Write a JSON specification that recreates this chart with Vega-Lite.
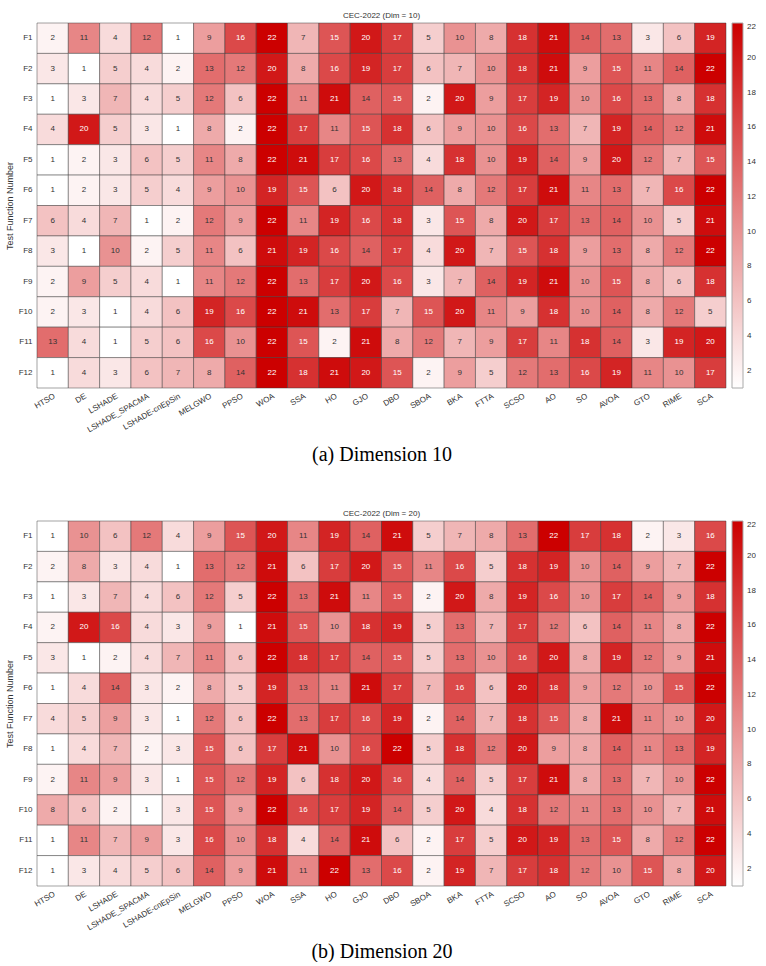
{
  "$schema": "https://vega.github.io/schema/vega-lite/v6.json",
  "padding": {"left": 5, "top": 11, "right": 0, "bottom": 0},
  "background": "white",
  "config": {
    "font": "Liberation Sans",
    "view": {"stroke": null},
    "concat": {"spacing": 44}
  },
  "datasets": {
    "dim10": [
      {"f":"F1","a":"HTSO","v":2},{"f":"F1","a":"DE","v":11},{"f":"F1","a":"LSHADE","v":4},{"f":"F1","a":"LSHADE_SPACMA","v":12},{"f":"F1","a":"LSHADE-cnEpSin","v":1},{"f":"F1","a":"MELGWO","v":9},{"f":"F1","a":"PPSO","v":16},{"f":"F1","a":"WOA","v":22},{"f":"F1","a":"SSA","v":7},{"f":"F1","a":"HO","v":15},{"f":"F1","a":"GJO","v":20},{"f":"F1","a":"DBO","v":17},{"f":"F1","a":"SBOA","v":5},{"f":"F1","a":"BKA","v":10},{"f":"F1","a":"FTTA","v":8},{"f":"F1","a":"SCSO","v":18},{"f":"F1","a":"AO","v":21},{"f":"F1","a":"SO","v":14},{"f":"F1","a":"AVOA","v":13},{"f":"F1","a":"GTO","v":3},{"f":"F1","a":"RIME","v":6},{"f":"F1","a":"SCA","v":19},
      {"f":"F2","a":"HTSO","v":3},{"f":"F2","a":"DE","v":1},{"f":"F2","a":"LSHADE","v":5},{"f":"F2","a":"LSHADE_SPACMA","v":4},{"f":"F2","a":"LSHADE-cnEpSin","v":2},{"f":"F2","a":"MELGWO","v":13},{"f":"F2","a":"PPSO","v":12},{"f":"F2","a":"WOA","v":20},{"f":"F2","a":"SSA","v":8},{"f":"F2","a":"HO","v":16},{"f":"F2","a":"GJO","v":19},{"f":"F2","a":"DBO","v":17},{"f":"F2","a":"SBOA","v":6},{"f":"F2","a":"BKA","v":7},{"f":"F2","a":"FTTA","v":10},{"f":"F2","a":"SCSO","v":18},{"f":"F2","a":"AO","v":21},{"f":"F2","a":"SO","v":9},{"f":"F2","a":"AVOA","v":15},{"f":"F2","a":"GTO","v":11},{"f":"F2","a":"RIME","v":14},{"f":"F2","a":"SCA","v":22},
      {"f":"F3","a":"HTSO","v":1},{"f":"F3","a":"DE","v":3},{"f":"F3","a":"LSHADE","v":7},{"f":"F3","a":"LSHADE_SPACMA","v":4},{"f":"F3","a":"LSHADE-cnEpSin","v":5},{"f":"F3","a":"MELGWO","v":12},{"f":"F3","a":"PPSO","v":6},{"f":"F3","a":"WOA","v":22},{"f":"F3","a":"SSA","v":11},{"f":"F3","a":"HO","v":21},{"f":"F3","a":"GJO","v":14},{"f":"F3","a":"DBO","v":15},{"f":"F3","a":"SBOA","v":2},{"f":"F3","a":"BKA","v":20},{"f":"F3","a":"FTTA","v":9},{"f":"F3","a":"SCSO","v":17},{"f":"F3","a":"AO","v":19},{"f":"F3","a":"SO","v":10},{"f":"F3","a":"AVOA","v":16},{"f":"F3","a":"GTO","v":13},{"f":"F3","a":"RIME","v":8},{"f":"F3","a":"SCA","v":18},
      {"f":"F4","a":"HTSO","v":4},{"f":"F4","a":"DE","v":20},{"f":"F4","a":"LSHADE","v":5},{"f":"F4","a":"LSHADE_SPACMA","v":3},{"f":"F4","a":"LSHADE-cnEpSin","v":1},{"f":"F4","a":"MELGWO","v":8},{"f":"F4","a":"PPSO","v":2},{"f":"F4","a":"WOA","v":22},{"f":"F4","a":"SSA","v":17},{"f":"F4","a":"HO","v":11},{"f":"F4","a":"GJO","v":15},{"f":"F4","a":"DBO","v":18},{"f":"F4","a":"SBOA","v":6},{"f":"F4","a":"BKA","v":9},{"f":"F4","a":"FTTA","v":10},{"f":"F4","a":"SCSO","v":16},{"f":"F4","a":"AO","v":13},{"f":"F4","a":"SO","v":7},{"f":"F4","a":"AVOA","v":19},{"f":"F4","a":"GTO","v":14},{"f":"F4","a":"RIME","v":12},{"f":"F4","a":"SCA","v":21},
      {"f":"F5","a":"HTSO","v":1},{"f":"F5","a":"DE","v":2},{"f":"F5","a":"LSHADE","v":3},{"f":"F5","a":"LSHADE_SPACMA","v":6},{"f":"F5","a":"LSHADE-cnEpSin","v":5},{"f":"F5","a":"MELGWO","v":11},{"f":"F5","a":"PPSO","v":8},{"f":"F5","a":"WOA","v":22},{"f":"F5","a":"SSA","v":21},{"f":"F5","a":"HO","v":17},{"f":"F5","a":"GJO","v":16},{"f":"F5","a":"DBO","v":13},{"f":"F5","a":"SBOA","v":4},{"f":"F5","a":"BKA","v":18},{"f":"F5","a":"FTTA","v":10},{"f":"F5","a":"SCSO","v":19},{"f":"F5","a":"AO","v":14},{"f":"F5","a":"SO","v":9},{"f":"F5","a":"AVOA","v":20},{"f":"F5","a":"GTO","v":12},{"f":"F5","a":"RIME","v":7},{"f":"F5","a":"SCA","v":15},
      {"f":"F6","a":"HTSO","v":1},{"f":"F6","a":"DE","v":2},{"f":"F6","a":"LSHADE","v":3},{"f":"F6","a":"LSHADE_SPACMA","v":5},{"f":"F6","a":"LSHADE-cnEpSin","v":4},{"f":"F6","a":"MELGWO","v":9},{"f":"F6","a":"PPSO","v":10},{"f":"F6","a":"WOA","v":19},{"f":"F6","a":"SSA","v":15},{"f":"F6","a":"HO","v":6},{"f":"F6","a":"GJO","v":20},{"f":"F6","a":"DBO","v":18},{"f":"F6","a":"SBOA","v":14},{"f":"F6","a":"BKA","v":8},{"f":"F6","a":"FTTA","v":12},{"f":"F6","a":"SCSO","v":17},{"f":"F6","a":"AO","v":21},{"f":"F6","a":"SO","v":11},{"f":"F6","a":"AVOA","v":13},{"f":"F6","a":"GTO","v":7},{"f":"F6","a":"RIME","v":16},{"f":"F6","a":"SCA","v":22},
      {"f":"F7","a":"HTSO","v":6},{"f":"F7","a":"DE","v":4},{"f":"F7","a":"LSHADE","v":7},{"f":"F7","a":"LSHADE_SPACMA","v":1},{"f":"F7","a":"LSHADE-cnEpSin","v":2},{"f":"F7","a":"MELGWO","v":12},{"f":"F7","a":"PPSO","v":9},{"f":"F7","a":"WOA","v":22},{"f":"F7","a":"SSA","v":11},{"f":"F7","a":"HO","v":19},{"f":"F7","a":"GJO","v":16},{"f":"F7","a":"DBO","v":18},{"f":"F7","a":"SBOA","v":3},{"f":"F7","a":"BKA","v":15},{"f":"F7","a":"FTTA","v":8},{"f":"F7","a":"SCSO","v":20},{"f":"F7","a":"AO","v":17},{"f":"F7","a":"SO","v":13},{"f":"F7","a":"AVOA","v":14},{"f":"F7","a":"GTO","v":10},{"f":"F7","a":"RIME","v":5},{"f":"F7","a":"SCA","v":21},
      {"f":"F8","a":"HTSO","v":3},{"f":"F8","a":"DE","v":1},{"f":"F8","a":"LSHADE","v":10},{"f":"F8","a":"LSHADE_SPACMA","v":2},{"f":"F8","a":"LSHADE-cnEpSin","v":5},{"f":"F8","a":"MELGWO","v":11},{"f":"F8","a":"PPSO","v":6},{"f":"F8","a":"WOA","v":21},{"f":"F8","a":"SSA","v":19},{"f":"F8","a":"HO","v":16},{"f":"F8","a":"GJO","v":14},{"f":"F8","a":"DBO","v":17},{"f":"F8","a":"SBOA","v":4},{"f":"F8","a":"BKA","v":20},{"f":"F8","a":"FTTA","v":7},{"f":"F8","a":"SCSO","v":15},{"f":"F8","a":"AO","v":18},{"f":"F8","a":"SO","v":9},{"f":"F8","a":"AVOA","v":13},{"f":"F8","a":"GTO","v":8},{"f":"F8","a":"RIME","v":12},{"f":"F8","a":"SCA","v":22},
      {"f":"F9","a":"HTSO","v":2},{"f":"F9","a":"DE","v":9},{"f":"F9","a":"LSHADE","v":5},{"f":"F9","a":"LSHADE_SPACMA","v":4},{"f":"F9","a":"LSHADE-cnEpSin","v":1},{"f":"F9","a":"MELGWO","v":11},{"f":"F9","a":"PPSO","v":12},{"f":"F9","a":"WOA","v":22},{"f":"F9","a":"SSA","v":13},{"f":"F9","a":"HO","v":17},{"f":"F9","a":"GJO","v":20},{"f":"F9","a":"DBO","v":16},{"f":"F9","a":"SBOA","v":3},{"f":"F9","a":"BKA","v":7},{"f":"F9","a":"FTTA","v":14},{"f":"F9","a":"SCSO","v":19},{"f":"F9","a":"AO","v":21},{"f":"F9","a":"SO","v":10},{"f":"F9","a":"AVOA","v":15},{"f":"F9","a":"GTO","v":8},{"f":"F9","a":"RIME","v":6},{"f":"F9","a":"SCA","v":18},
      {"f":"F10","a":"HTSO","v":2},{"f":"F10","a":"DE","v":3},{"f":"F10","a":"LSHADE","v":1},{"f":"F10","a":"LSHADE_SPACMA","v":4},{"f":"F10","a":"LSHADE-cnEpSin","v":6},{"f":"F10","a":"MELGWO","v":19},{"f":"F10","a":"PPSO","v":16},{"f":"F10","a":"WOA","v":22},{"f":"F10","a":"SSA","v":21},{"f":"F10","a":"HO","v":13},{"f":"F10","a":"GJO","v":17},{"f":"F10","a":"DBO","v":7},{"f":"F10","a":"SBOA","v":15},{"f":"F10","a":"BKA","v":20},{"f":"F10","a":"FTTA","v":11},{"f":"F10","a":"SCSO","v":9},{"f":"F10","a":"AO","v":18},{"f":"F10","a":"SO","v":10},{"f":"F10","a":"AVOA","v":14},{"f":"F10","a":"GTO","v":8},{"f":"F10","a":"RIME","v":12},{"f":"F10","a":"SCA","v":5},
      {"f":"F11","a":"HTSO","v":13},{"f":"F11","a":"DE","v":4},{"f":"F11","a":"LSHADE","v":1},{"f":"F11","a":"LSHADE_SPACMA","v":5},{"f":"F11","a":"LSHADE-cnEpSin","v":6},{"f":"F11","a":"MELGWO","v":16},{"f":"F11","a":"PPSO","v":10},{"f":"F11","a":"WOA","v":22},{"f":"F11","a":"SSA","v":15},{"f":"F11","a":"HO","v":2},{"f":"F11","a":"GJO","v":21},{"f":"F11","a":"DBO","v":8},{"f":"F11","a":"SBOA","v":12},{"f":"F11","a":"BKA","v":7},{"f":"F11","a":"FTTA","v":9},{"f":"F11","a":"SCSO","v":17},{"f":"F11","a":"AO","v":11},{"f":"F11","a":"SO","v":18},{"f":"F11","a":"AVOA","v":14},{"f":"F11","a":"GTO","v":3},{"f":"F11","a":"RIME","v":19},{"f":"F11","a":"SCA","v":20},
      {"f":"F12","a":"HTSO","v":1},{"f":"F12","a":"DE","v":4},{"f":"F12","a":"LSHADE","v":3},{"f":"F12","a":"LSHADE_SPACMA","v":6},{"f":"F12","a":"LSHADE-cnEpSin","v":7},{"f":"F12","a":"MELGWO","v":8},{"f":"F12","a":"PPSO","v":14},{"f":"F12","a":"WOA","v":22},{"f":"F12","a":"SSA","v":18},{"f":"F12","a":"HO","v":21},{"f":"F12","a":"GJO","v":20},{"f":"F12","a":"DBO","v":15},{"f":"F12","a":"SBOA","v":2},{"f":"F12","a":"BKA","v":9},{"f":"F12","a":"FTTA","v":5},{"f":"F12","a":"SCSO","v":12},{"f":"F12","a":"AO","v":13},{"f":"F12","a":"SO","v":16},{"f":"F12","a":"AVOA","v":19},{"f":"F12","a":"GTO","v":11},{"f":"F12","a":"RIME","v":10},{"f":"F12","a":"SCA","v":17}
    ],
    "dim20": [
      {"f":"F1","a":"HTSO","v":1},{"f":"F1","a":"DE","v":10},{"f":"F1","a":"LSHADE","v":6},{"f":"F1","a":"LSHADE_SPACMA","v":12},{"f":"F1","a":"LSHADE-cnEpSin","v":4},{"f":"F1","a":"MELGWO","v":9},{"f":"F1","a":"PPSO","v":15},{"f":"F1","a":"WOA","v":20},{"f":"F1","a":"SSA","v":11},{"f":"F1","a":"HO","v":19},{"f":"F1","a":"GJO","v":14},{"f":"F1","a":"DBO","v":21},{"f":"F1","a":"SBOA","v":5},{"f":"F1","a":"BKA","v":7},{"f":"F1","a":"FTTA","v":8},{"f":"F1","a":"SCSO","v":13},{"f":"F1","a":"AO","v":22},{"f":"F1","a":"SO","v":17},{"f":"F1","a":"AVOA","v":18},{"f":"F1","a":"GTO","v":2},{"f":"F1","a":"RIME","v":3},{"f":"F1","a":"SCA","v":16},
      {"f":"F2","a":"HTSO","v":2},{"f":"F2","a":"DE","v":8},{"f":"F2","a":"LSHADE","v":3},{"f":"F2","a":"LSHADE_SPACMA","v":4},{"f":"F2","a":"LSHADE-cnEpSin","v":1},{"f":"F2","a":"MELGWO","v":13},{"f":"F2","a":"PPSO","v":12},{"f":"F2","a":"WOA","v":21},{"f":"F2","a":"SSA","v":6},{"f":"F2","a":"HO","v":17},{"f":"F2","a":"GJO","v":20},{"f":"F2","a":"DBO","v":15},{"f":"F2","a":"SBOA","v":11},{"f":"F2","a":"BKA","v":16},{"f":"F2","a":"FTTA","v":5},{"f":"F2","a":"SCSO","v":18},{"f":"F2","a":"AO","v":19},{"f":"F2","a":"SO","v":10},{"f":"F2","a":"AVOA","v":14},{"f":"F2","a":"GTO","v":9},{"f":"F2","a":"RIME","v":7},{"f":"F2","a":"SCA","v":22},
      {"f":"F3","a":"HTSO","v":1},{"f":"F3","a":"DE","v":3},{"f":"F3","a":"LSHADE","v":7},{"f":"F3","a":"LSHADE_SPACMA","v":4},{"f":"F3","a":"LSHADE-cnEpSin","v":6},{"f":"F3","a":"MELGWO","v":12},{"f":"F3","a":"PPSO","v":5},{"f":"F3","a":"WOA","v":22},{"f":"F3","a":"SSA","v":13},{"f":"F3","a":"HO","v":21},{"f":"F3","a":"GJO","v":11},{"f":"F3","a":"DBO","v":15},{"f":"F3","a":"SBOA","v":2},{"f":"F3","a":"BKA","v":20},{"f":"F3","a":"FTTA","v":8},{"f":"F3","a":"SCSO","v":19},{"f":"F3","a":"AO","v":16},{"f":"F3","a":"SO","v":10},{"f":"F3","a":"AVOA","v":17},{"f":"F3","a":"GTO","v":14},{"f":"F3","a":"RIME","v":9},{"f":"F3","a":"SCA","v":18},
      {"f":"F4","a":"HTSO","v":2},{"f":"F4","a":"DE","v":20},{"f":"F4","a":"LSHADE","v":16},{"f":"F4","a":"LSHADE_SPACMA","v":4},{"f":"F4","a":"LSHADE-cnEpSin","v":3},{"f":"F4","a":"MELGWO","v":9},{"f":"F4","a":"PPSO","v":1},{"f":"F4","a":"WOA","v":21},{"f":"F4","a":"SSA","v":15},{"f":"F4","a":"HO","v":10},{"f":"F4","a":"GJO","v":18},{"f":"F4","a":"DBO","v":19},{"f":"F4","a":"SBOA","v":5},{"f":"F4","a":"BKA","v":13},{"f":"F4","a":"FTTA","v":7},{"f":"F4","a":"SCSO","v":17},{"f":"F4","a":"AO","v":12},{"f":"F4","a":"SO","v":6},{"f":"F4","a":"AVOA","v":14},{"f":"F4","a":"GTO","v":11},{"f":"F4","a":"RIME","v":8},{"f":"F4","a":"SCA","v":22},
      {"f":"F5","a":"HTSO","v":3},{"f":"F5","a":"DE","v":1},{"f":"F5","a":"LSHADE","v":2},{"f":"F5","a":"LSHADE_SPACMA","v":4},{"f":"F5","a":"LSHADE-cnEpSin","v":7},{"f":"F5","a":"MELGWO","v":11},{"f":"F5","a":"PPSO","v":6},{"f":"F5","a":"WOA","v":22},{"f":"F5","a":"SSA","v":18},{"f":"F5","a":"HO","v":17},{"f":"F5","a":"GJO","v":14},{"f":"F5","a":"DBO","v":15},{"f":"F5","a":"SBOA","v":5},{"f":"F5","a":"BKA","v":13},{"f":"F5","a":"FTTA","v":10},{"f":"F5","a":"SCSO","v":16},{"f":"F5","a":"AO","v":20},{"f":"F5","a":"SO","v":8},{"f":"F5","a":"AVOA","v":19},{"f":"F5","a":"GTO","v":12},{"f":"F5","a":"RIME","v":9},{"f":"F5","a":"SCA","v":21},
      {"f":"F6","a":"HTSO","v":1},{"f":"F6","a":"DE","v":4},{"f":"F6","a":"LSHADE","v":14},{"f":"F6","a":"LSHADE_SPACMA","v":3},{"f":"F6","a":"LSHADE-cnEpSin","v":2},{"f":"F6","a":"MELGWO","v":8},{"f":"F6","a":"PPSO","v":5},{"f":"F6","a":"WOA","v":19},{"f":"F6","a":"SSA","v":13},{"f":"F6","a":"HO","v":11},{"f":"F6","a":"GJO","v":21},{"f":"F6","a":"DBO","v":17},{"f":"F6","a":"SBOA","v":7},{"f":"F6","a":"BKA","v":16},{"f":"F6","a":"FTTA","v":6},{"f":"F6","a":"SCSO","v":20},{"f":"F6","a":"AO","v":18},{"f":"F6","a":"SO","v":9},{"f":"F6","a":"AVOA","v":12},{"f":"F6","a":"GTO","v":10},{"f":"F6","a":"RIME","v":15},{"f":"F6","a":"SCA","v":22},
      {"f":"F7","a":"HTSO","v":4},{"f":"F7","a":"DE","v":5},{"f":"F7","a":"LSHADE","v":9},{"f":"F7","a":"LSHADE_SPACMA","v":3},{"f":"F7","a":"LSHADE-cnEpSin","v":1},{"f":"F7","a":"MELGWO","v":12},{"f":"F7","a":"PPSO","v":6},{"f":"F7","a":"WOA","v":22},{"f":"F7","a":"SSA","v":13},{"f":"F7","a":"HO","v":17},{"f":"F7","a":"GJO","v":16},{"f":"F7","a":"DBO","v":19},{"f":"F7","a":"SBOA","v":2},{"f":"F7","a":"BKA","v":14},{"f":"F7","a":"FTTA","v":7},{"f":"F7","a":"SCSO","v":18},{"f":"F7","a":"AO","v":15},{"f":"F7","a":"SO","v":8},{"f":"F7","a":"AVOA","v":21},{"f":"F7","a":"GTO","v":11},{"f":"F7","a":"RIME","v":10},{"f":"F7","a":"SCA","v":20},
      {"f":"F8","a":"HTSO","v":1},{"f":"F8","a":"DE","v":4},{"f":"F8","a":"LSHADE","v":7},{"f":"F8","a":"LSHADE_SPACMA","v":2},{"f":"F8","a":"LSHADE-cnEpSin","v":3},{"f":"F8","a":"MELGWO","v":15},{"f":"F8","a":"PPSO","v":6},{"f":"F8","a":"WOA","v":17},{"f":"F8","a":"SSA","v":21},{"f":"F8","a":"HO","v":10},{"f":"F8","a":"GJO","v":16},{"f":"F8","a":"DBO","v":22},{"f":"F8","a":"SBOA","v":5},{"f":"F8","a":"BKA","v":18},{"f":"F8","a":"FTTA","v":12},{"f":"F8","a":"SCSO","v":20},{"f":"F8","a":"AO","v":9},{"f":"F8","a":"SO","v":8},{"f":"F8","a":"AVOA","v":14},{"f":"F8","a":"GTO","v":11},{"f":"F8","a":"RIME","v":13},{"f":"F8","a":"SCA","v":19},
      {"f":"F9","a":"HTSO","v":2},{"f":"F9","a":"DE","v":11},{"f":"F9","a":"LSHADE","v":9},{"f":"F9","a":"LSHADE_SPACMA","v":3},{"f":"F9","a":"LSHADE-cnEpSin","v":1},{"f":"F9","a":"MELGWO","v":15},{"f":"F9","a":"PPSO","v":12},{"f":"F9","a":"WOA","v":19},{"f":"F9","a":"SSA","v":6},{"f":"F9","a":"HO","v":18},{"f":"F9","a":"GJO","v":20},{"f":"F9","a":"DBO","v":16},{"f":"F9","a":"SBOA","v":4},{"f":"F9","a":"BKA","v":14},{"f":"F9","a":"FTTA","v":5},{"f":"F9","a":"SCSO","v":17},{"f":"F9","a":"AO","v":21},{"f":"F9","a":"SO","v":8},{"f":"F9","a":"AVOA","v":13},{"f":"F9","a":"GTO","v":7},{"f":"F9","a":"RIME","v":10},{"f":"F9","a":"SCA","v":22},
      {"f":"F10","a":"HTSO","v":8},{"f":"F10","a":"DE","v":6},{"f":"F10","a":"LSHADE","v":2},{"f":"F10","a":"LSHADE_SPACMA","v":1},{"f":"F10","a":"LSHADE-cnEpSin","v":3},{"f":"F10","a":"MELGWO","v":15},{"f":"F10","a":"PPSO","v":9},{"f":"F10","a":"WOA","v":22},{"f":"F10","a":"SSA","v":16},{"f":"F10","a":"HO","v":17},{"f":"F10","a":"GJO","v":19},{"f":"F10","a":"DBO","v":14},{"f":"F10","a":"SBOA","v":5},{"f":"F10","a":"BKA","v":20},{"f":"F10","a":"FTTA","v":4},{"f":"F10","a":"SCSO","v":18},{"f":"F10","a":"AO","v":12},{"f":"F10","a":"SO","v":11},{"f":"F10","a":"AVOA","v":13},{"f":"F10","a":"GTO","v":10},{"f":"F10","a":"RIME","v":7},{"f":"F10","a":"SCA","v":21},
      {"f":"F11","a":"HTSO","v":1},{"f":"F11","a":"DE","v":11},{"f":"F11","a":"LSHADE","v":7},{"f":"F11","a":"LSHADE_SPACMA","v":9},{"f":"F11","a":"LSHADE-cnEpSin","v":3},{"f":"F11","a":"MELGWO","v":16},{"f":"F11","a":"PPSO","v":10},{"f":"F11","a":"WOA","v":18},{"f":"F11","a":"SSA","v":4},{"f":"F11","a":"HO","v":14},{"f":"F11","a":"GJO","v":21},{"f":"F11","a":"DBO","v":6},{"f":"F11","a":"SBOA","v":2},{"f":"F11","a":"BKA","v":17},{"f":"F11","a":"FTTA","v":5},{"f":"F11","a":"SCSO","v":20},{"f":"F11","a":"AO","v":19},{"f":"F11","a":"SO","v":13},{"f":"F11","a":"AVOA","v":15},{"f":"F11","a":"GTO","v":8},{"f":"F11","a":"RIME","v":12},{"f":"F11","a":"SCA","v":22},
      {"f":"F12","a":"HTSO","v":1},{"f":"F12","a":"DE","v":3},{"f":"F12","a":"LSHADE","v":4},{"f":"F12","a":"LSHADE_SPACMA","v":5},{"f":"F12","a":"LSHADE-cnEpSin","v":6},{"f":"F12","a":"MELGWO","v":14},{"f":"F12","a":"PPSO","v":9},{"f":"F12","a":"WOA","v":21},{"f":"F12","a":"SSA","v":11},{"f":"F12","a":"HO","v":22},{"f":"F12","a":"GJO","v":13},{"f":"F12","a":"DBO","v":16},{"f":"F12","a":"SBOA","v":2},{"f":"F12","a":"BKA","v":19},{"f":"F12","a":"FTTA","v":7},{"f":"F12","a":"SCSO","v":17},{"f":"F12","a":"AO","v":18},{"f":"F12","a":"SO","v":12},{"f":"F12","a":"AVOA","v":10},{"f":"F12","a":"GTO","v":15},{"f":"F12","a":"RIME","v":8},{"f":"F12","a":"SCA","v":20}
    ]
  },
  "resolve": {"scale": {"color": "independent"}, "legend": {"color": "independent"}},
  "vconcat": [
    {
      "data": {"name": "dim10"},
      "title": {"text": "CEC-2022 (Dim = 10)", "fontSize": 8, "fontWeight": "normal", "color": "#333333", "offset": 3, "anchor": "middle"},
      "width": 689,
      "height": 365,
      "encoding": {
        "x": {"field": "a", "type": "nominal",
          "sort": ["HTSO","DE","LSHADE","LSHADE_SPACMA","LSHADE-cnEpSin","MELGWO","PPSO","WOA","SSA","HO","GJO","DBO","SBOA","BKA","FTTA","SCSO","AO","SO","AVOA","GTO","RIME","SCA"],
          "scale": {"paddingInner": 0, "paddingOuter": 0},
          "axis": {"title": "(a) Dimension 10", "labelAngle": -30, "labelAlign": "right", "labelBaseline": "top", "ticks": false, "domain": false, "labelPadding": 4, "labelFontSize": 8, "labelColor": "#333333", "titleFont": "Liberation Serif", "titleFontSize": 20, "titleFontWeight": "normal", "titleColor": "#000000", "titlePadding": 11}},
        "y": {"field": "f", "type": "nominal",
          "sort": ["F1","F2","F3","F4","F5","F6","F7","F8","F9","F10","F11","F12"],
          "scale": {"paddingInner": 0, "paddingOuter": 0},
          "axis": {"title": "Test Function Number", "ticks": false, "domain": false, "labelPadding": 5, "labelFontSize": 8, "labelColor": "#333333", "titleFontSize": 9, "titleFontWeight": "normal", "titleColor": "#333333", "titlePadding": 4}}
      },
      "layer": [
        {"mark": {"type": "rect", "stroke": "#333333", "strokeOpacity": 0.45, "strokeWidth": 1},
         "encoding": {"color": {"field": "v", "type": "quantitative",
           "scale": {"domain": [1, 22], "range": ["#ffffff", "#cc0000"], "interpolate": "rgb"},
           "legend": {"title": null, "direction": "vertical", "gradientLength": 365, "gradientThickness": 11, "values": [2,4,6,8,10,12,14,16,18,20,22], "labelFontSize": 8, "labelColor": "#333333", "labelOverlap": false, "labelOffset": 4, "offset": 6, "gradientStrokeColor": "#aaaaaa", "gradientStrokeWidth": 1, "padding": 0}}}},
        {"mark": {"type": "text", "fontSize": 8},
         "encoding": {"text": {"field": "v", "type": "quantitative"},
           "color": {"condition": {"test": "datum.v >= 15", "value": "#ffffff"}, "value": "#333333"}}}
      ]
    },
    {
      "data": {"name": "dim20"},
      "title": {"text": "CEC-2022 (Dim = 20)", "fontSize": 8, "fontWeight": "normal", "color": "#333333", "offset": 3, "anchor": "middle"},
      "width": 689,
      "height": 365,
      "encoding": {
        "x": {"field": "a", "type": "nominal",
          "sort": ["HTSO","DE","LSHADE","LSHADE_SPACMA","LSHADE-cnEpSin","MELGWO","PPSO","WOA","SSA","HO","GJO","DBO","SBOA","BKA","FTTA","SCSO","AO","SO","AVOA","GTO","RIME","SCA"],
          "scale": {"paddingInner": 0, "paddingOuter": 0},
          "axis": {"title": "(b) Dimension 20", "labelAngle": -30, "labelAlign": "right", "labelBaseline": "top", "ticks": false, "domain": false, "labelPadding": 4, "labelFontSize": 8, "labelColor": "#333333", "titleFont": "Liberation Serif", "titleFontSize": 20, "titleFontWeight": "normal", "titleColor": "#000000", "titlePadding": 10}},
        "y": {"field": "f", "type": "nominal",
          "sort": ["F1","F2","F3","F4","F5","F6","F7","F8","F9","F10","F11","F12"],
          "scale": {"paddingInner": 0, "paddingOuter": 0},
          "axis": {"title": "Test Function Number", "ticks": false, "domain": false, "labelPadding": 5, "labelFontSize": 8, "labelColor": "#333333", "titleFontSize": 9, "titleFontWeight": "normal", "titleColor": "#333333", "titlePadding": 4}}
      },
      "layer": [
        {"mark": {"type": "rect", "stroke": "#333333", "strokeOpacity": 0.45, "strokeWidth": 1},
         "encoding": {"color": {"field": "v", "type": "quantitative",
           "scale": {"domain": [1, 22], "range": ["#ffffff", "#cc0000"], "interpolate": "rgb"},
           "legend": {"title": null, "direction": "vertical", "gradientLength": 365, "gradientThickness": 11, "values": [2,4,6,8,10,12,14,16,18,20,22], "labelFontSize": 8, "labelColor": "#333333", "labelOverlap": false, "labelOffset": 4, "offset": 6, "gradientStrokeColor": "#aaaaaa", "gradientStrokeWidth": 1, "padding": 0}}}},
        {"mark": {"type": "text", "fontSize": 8},
         "encoding": {"text": {"field": "v", "type": "quantitative"},
           "color": {"condition": {"test": "datum.v >= 15", "value": "#ffffff"}, "value": "#333333"}}}
      ]
    }
  ]
}
